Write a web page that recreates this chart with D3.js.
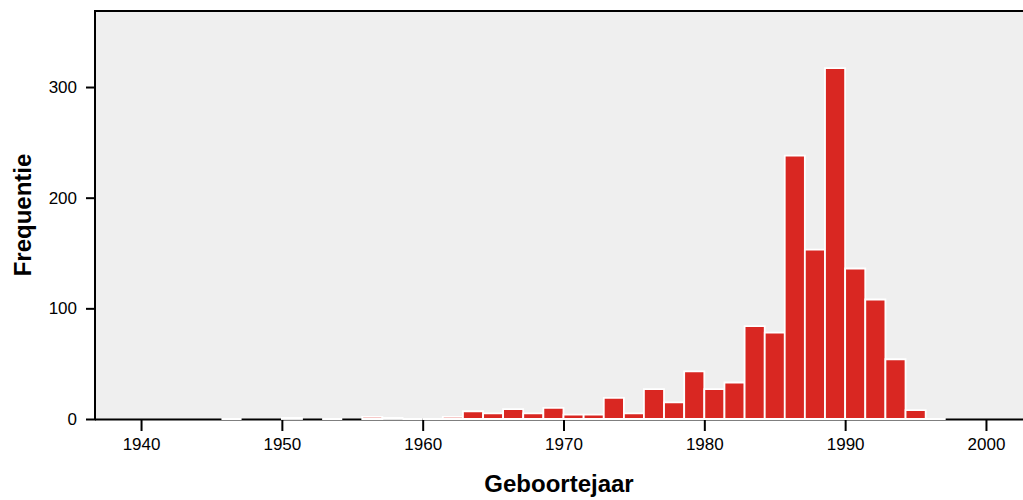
<!DOCTYPE html>
<html>
<head>
<meta charset="utf-8">
<script src="https://cdn.jsdelivr.net/npm/d3@7"></script>
<style>
  body { margin: 0; background: #fff; }
  text { font-family: "Liberation Sans", Arial, Helvetica, sans-serif; fill: #000; }
</style>
</head>
<body>
<div id="chart"></div>
<script>
// histogram bins (lower edge in years) and their counts
var binStart = [1945.71, 1950.00, 1952.86, 1955.71, 1957.14, 1958.57, 1960.00,
                1961.43, 1962.86, 1964.29, 1965.71, 1967.14, 1968.57, 1970.00,
                1971.43, 1972.86, 1974.29, 1975.71, 1977.14, 1978.57, 1980.00,
                1981.43, 1982.86, 1984.29, 1985.71, 1987.14, 1988.57, 1990.00,
                1991.43, 1992.86, 1994.29, 1995.71];
var counts   = [0, 1, 0, 2, 1, 0, 0,
                2, 7, 5, 9, 5, 10, 4,
                4, 19, 5, 27, 15, 43, 27,
                33, 84, 78, 238, 153, 317, 136,
                108, 54, 8, 0];
var binWidth = 10 / 7;
var xTicks = [1940, 1950, 1960, 1970, 1980, 1990, 2000];
var yTicks = [0, 100, 200, 300];

drawHist(1023, 500);

function drawHist(width, height) {
  var left = 95, plotTop = 11, bottom = 419;

  var svg = d3.select("#chart").append("svg")
      .attr("width", width)
      .attr("height", height);

  var x = d3.scaleLinear()
      .domain([1936.73, 2002.63])
      .range([left, width]);

  var y = d3.scaleLinear()
      .domain([0, 368.7])
      .range([bottom, plotTop]);

  // plot background
  svg.append("rect")
      .attr("x", left).attr("y", plotTop)
      .attr("width", width - left).attr("height", bottom - plotTop)
      .attr("fill", "#efefef");

  // baseline
  svg.append("line")
      .attr("x1", left).attr("x2", width)
      .attr("y1", bottom + 0.5).attr("y2", bottom + 0.5)
      .attr("stroke", "#000").attr("stroke-width", 2);

  var bins = binStart.map(function(s, i) { return {x0: s, x1: s + binWidth, n: counts[i]}; });

  // bars as paths so empty bins still show their outline
  svg.append("g")
    .selectAll("path")
    .data(bins)
    .enter().append("path")
      .attr("d", function(d) {
        var x0 = x(d.x0), x1 = x(d.x1), y0 = y(0), y1 = y(d.n);
        return "M" + x0 + "," + y0 + "V" + y1 + "H" + x1 + "V" + y0 + "Z";
      })
      .attr("fill", "#d92722")
      .attr("stroke", "#fff")
      .attr("stroke-width", 1.8);

  // frame: left and top
  svg.append("line")
      .attr("x1", left).attr("x2", left)
      .attr("y1", plotTop).attr("y2", bottom + 1.5)
      .attr("stroke", "#000").attr("stroke-width", 2);
  svg.append("line")
      .attr("x1", left - 1).attr("x2", width)
      .attr("y1", plotTop).attr("y2", plotTop)
      .attr("stroke", "#000").attr("stroke-width", 2);

  // x axis
  var xAxis = svg.append("g")
      .attr("transform", "translate(0," + (bottom + 1) + ")")
      .call(d3.axisBottom(x).tickValues(xTicks).tickFormat(d3.format("d")).tickSize(11).tickPadding(7));
  xAxis.select(".domain").remove();
  xAxis.selectAll("line").attr("stroke", "#000").attr("stroke-width", 2);
  xAxis.selectAll("text").attr("font-size", "17px").attr("font-family", null);

  // y axis
  var yAxis = svg.append("g")
      .attr("transform", "translate(" + (left - 1) + ",0)")
      .call(d3.axisLeft(y).tickValues(yTicks).tickSize(8).tickPadding(9));
  yAxis.select(".domain").remove();
  yAxis.selectAll("line").attr("stroke", "#000").attr("stroke-width", 2);
  yAxis.selectAll("text").attr("font-size", "17px").attr("font-family", null);

  // titles
  svg.append("text")
      .attr("x", (left + width) / 2)
      .attr("y", 492)
      .attr("text-anchor", "middle")
      .attr("font-weight", "bold")
      .attr("font-size", "24px")
      .text("Geboortejaar");

  svg.append("text")
      .attr("transform", "translate(31," + ((plotTop + bottom) / 2) + ") rotate(-90)")
      .attr("text-anchor", "middle")
      .attr("font-weight", "bold")
      .attr("font-size", "24px")
      .text("Frequentie");
}
</script>
</body>
</html>
